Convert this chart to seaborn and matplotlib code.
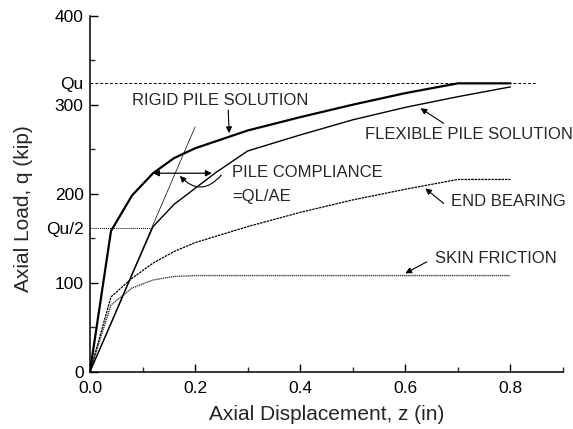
import matplotlib
matplotlib.use("Agg")
import matplotlib.pyplot as plt
import seaborn as sns
import numpy as np

# Load-displacement curves for an axially loaded pile (kip vs in)
rigid_z = [0.0, 0.04, 0.08, 0.12, 0.16, 0.20, 0.30, 0.40, 0.50, 0.60, 0.70, 0.80]
rigid_q = [0, 158, 198, 223, 240, 251, 271, 286, 300, 313, 324, 324]

flex_z = [0.0, 0.04, 0.08, 0.12, 0.16, 0.20, 0.24, 0.30, 0.40, 0.50, 0.60, 0.70, 0.80]
flex_q = [0, 54, 109, 163, 188, 206, 224, 248, 266, 283, 297, 309, 320]

end_z = [0.0, 0.04, 0.08, 0.12, 0.16, 0.20, 0.30, 0.40, 0.50, 0.60, 0.70, 0.80]
end_q = [0, 84, 105, 122, 135, 145, 163, 179, 193, 205, 216, 216]

skin_z = [0.0, 0.04, 0.08, 0.12, 0.16, 0.20, 0.40, 0.60, 0.80]
skin_q = [0, 75, 94, 103, 107, 108, 108, 108, 108]

compliance_z = [0.0, 0.20]
compliance_q = [0, 275]

qu = 324
x_ticks = [0.0, 0.2, 0.4, 0.6, 0.8]
y_ticks = [0, 100, 200, 300, 400]

sns.set_style("ticks")
plt.rcParams["font.family"] = ["Liberation Sans", "DejaVu Sans"]

fig = plt.figure(figsize=(5.73, 4.29), dpi=100)
ax = fig.add_axes([0.157, 0.1336, 0.8255, 0.8298])

# reference lines for ultimate capacity
ax.plot([0, 0.85], [qu, qu], color="black", lw=0.7, ls=(0, (3, 2)))
ax.plot([0, 0.118], [qu / 2, qu / 2], color="black", lw=0.7, ls=(0, (1, 1)))

sns.lineplot(x=compliance_z, y=compliance_q, ax=ax, color="black", lw=0.5,
             estimator=None, sort=False)
sns.lineplot(x=skin_z, y=skin_q, ax=ax, color="#444444", lw=1.0,
             ls=(0, (1, 0.5)), estimator=None, sort=False)
sns.lineplot(x=end_z, y=end_q, ax=ax, color="black", lw=0.9,
             ls=(0, (2, 0.7)), estimator=None, sort=False)
sns.lineplot(x=flex_z, y=flex_q, ax=ax, color="black", lw=1.0,
             estimator=None, sort=False)
sns.lineplot(x=rigid_z, y=rigid_q, ax=ax, color="black", lw=1.6,
             estimator=None, sort=False)

ax.set_xlim(0, 0.9)
ax.set_ylim(0, 400)
ax.set_xticks(x_ticks)
ax.set_xticklabels([f"{v:.1f}" for v in x_ticks])
ax.set_xticks(np.arange(0.1, 0.91, 0.2), minor=True)

yt = y_ticks[:2] + [qu / 2] + y_ticks[2:4] + [qu] + y_ticks[4:]
ylabels = ["0", "100", "Qu/2", "200", "300", "Qu", "400"]
ax.set_yticks(yt)
ax.set_yticklabels(ylabels)
ax.set_yticks([50, 150, 250, 350], minor=True)
for t, v in zip(ax.yaxis.get_major_ticks(), yt):
    if v in (qu, qu / 2):
        t.tick1line.set_visible(False)

ax.tick_params(axis="both", which="major", direction="in", length=5.5,
               width=1.0, labelsize=12.5, colors="black")
ax.tick_params(axis="x", which="major", pad=6.5)
ax.tick_params(axis="y", which="major", pad=4.5)
ax.tick_params(axis="both", which="minor", direction="in", length=3.5,
               width=1.0)
for s in ["top", "right"]:
    ax.spines[s].set_visible(False)
for s in ["left", "bottom"]:
    ax.spines[s].set_linewidth(1.1)
    ax.spines[s].set_color("black")

ax.set_xlabel("Axial Displacement, z (in)", fontsize=15, labelpad=7)
ax.set_ylabel("Axial Load, q (kip)", fontsize=15)
ax.yaxis.set_label_coords(-0.12, 0.457)

fs = 12
arrow = dict(arrowstyle="-|>", color="black", lw=0.8, mutation_scale=9,
             shrinkA=0, shrinkB=0)

ax.text(0.08, 305, "RIGID PILE SOLUTION", fontsize=fs, va="center", ha="left")
ax.annotate("", xy=(0.265, 268), xytext=(0.263, 294), arrowprops=arrow)

ax.text(0.524, 266, "FLEXIBLE PILE SOLUTION", fontsize=fs, va="center", ha="left")
ax.annotate("", xy=(0.629, 296), xytext=(0.673, 279), arrowprops=arrow)

ax.text(0.27, 224, "PILE COMPLIANCE", fontsize=fs, va="center", ha="left")
ax.text(0.27, 197, "=QL/AE", fontsize=fs, va="center", ha="left")
ax.annotate("", xy=(0.12, 223), xytext=(0.232, 223),
            arrowprops=dict(arrowstyle="<|-|>", color="black", lw=0.9,
                            mutation_scale=9, shrinkA=0, shrinkB=0))
ax.annotate("", xy=(0.171, 220), xytext=(0.25, 221),
            arrowprops=dict(arrowstyle="-|>", color="black", lw=0.8,
                            mutation_scale=9, shrinkA=0, shrinkB=0,
                            connectionstyle="arc3,rad=-0.55"))

ax.text(0.686, 191, "END BEARING", fontsize=fs, va="center", ha="left")
ax.annotate("", xy=(0.638, 206), xytext=(0.673, 189), arrowprops=arrow)

ax.text(0.657, 127, "SKIN FRICTION", fontsize=fs, va="center", ha="left")
ax.annotate("", xy=(0.600, 110.5), xytext=(0.641, 123.5), arrowprops=arrow)

fig.savefig("out.png", dpi=100)
